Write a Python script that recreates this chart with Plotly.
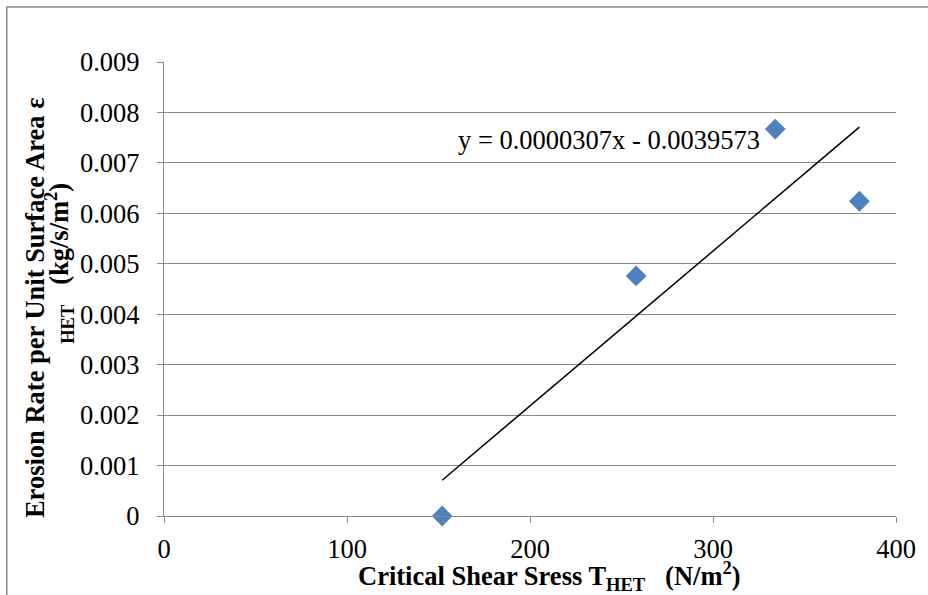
import plotly.graph_objects as go

# Measured critical shear stress vs. erosion rate
shear_stress = [152, 258, 334, 380]
erosion_rate = [0.0, 0.00476, 0.00767, 0.00624]

# Linear trendline coefficients (as printed on the chart)
slope = 0.0000307
intercept = -0.0039573

y_tick_vals = [0, 0.001, 0.002, 0.003, 0.004, 0.005, 0.006, 0.007, 0.008, 0.009]
y_tick_text = ["0", "0.001", "0.002", "0.003", "0.004", "0.005", "0.006", "0.007", "0.008", "0.009"]
x_tick_vals = [0, 100, 200, 300, 400]

FONT = "Liberation Serif, Times New Roman, serif"
FS = 26.5
GRID = "#8a8a8a"

trend_x = [min(shear_stress), max(shear_stress)]
trend_y = [slope * x + intercept for x in trend_x]

fig = go.Figure()
fig.add_trace(go.Scatter(
    x=trend_x, y=trend_y, mode="lines",
    line=dict(color="black", width=1.5), showlegend=False, hoverinfo="skip",
))
fig.add_trace(go.Scatter(
    x=shear_stress, y=erosion_rate, mode="markers",
    marker=dict(symbol="diamond", size=16, color="#4F81BD", line=dict(width=0)),
    showlegend=False, cliponaxis=False,
))

W, H = 928, 595
L, R, T, B = 164, 26, 62, 79
pw, ph = W - L - R, H - T - B


def px(x):
    return (x - L) / pw


def py(y):
    return (H - B - y) / ph


fig.update_layout(
    width=W, height=H,
    margin=dict(l=L, r=R, t=T, b=B),
    paper_bgcolor="white", plot_bgcolor="white",
    font=dict(family=FONT, size=FS, color="black"),
    xaxis=dict(
        range=[0, 400], tickvals=x_tick_vals, showgrid=False, zeroline=False,
        showline=True, linecolor=GRID, linewidth=1.3,
        ticks="outside", ticklen=6, tickcolor=GRID, tickwidth=1.3,
        tickfont=dict(family=FONT, size=FS), ticklabelstandoff=3,
    ),
    yaxis=dict(
        range=[0, 0.009], tickvals=y_tick_vals, ticktext=y_tick_text,
        showgrid=True, gridcolor=GRID, gridwidth=1.3, zeroline=False,
        showline=True, linecolor=GRID, linewidth=1.3,
        ticks="outside", ticklen=6, tickcolor=GRID, tickwidth=1.3,
        tickfont=dict(family=FONT, size=FS), ticklabelstandoff=12,
    ),
    shapes=[dict(
        type="rect", xref="paper", yref="paper",
        x0=px(5.5), y0=py(700), x1=px(1100), y1=py(7),
        line=dict(color="#8a8a8a", width=1.5), fillcolor="rgba(0,0,0,0)", layer="below",
    )],
    annotations=[
        dict(
            x=243.4, y=0.00745, xref="x", yref="y",
            text="y = 0.0000307x - 0.0039573", showarrow=False,
            xanchor="center", yanchor="middle",
            font=dict(family=FONT, size=FS, color="black"),
        ),
        dict(
            x=px(553), y=py(576), xref="paper", yref="paper",
            text="<b>Critical Shear Sress T<sub>HET</sub>   (N/m<sup>2</sup>)</b>",
            showarrow=False, xanchor="center", yanchor="middle",
            font=dict(family=FONT, size=FS, color="black"),
        ),
        dict(
            x=px(34), y=py(308), xref="paper", yref="paper",
            text="<b>Erosion Rate per Unit Surface Area ε</b>",
            showarrow=False, textangle=-90, xanchor="center", yanchor="middle",
            font=dict(family=FONT, size=FS, color="black"),
        ),
        dict(
            x=px(58), y=py(263), xref="paper", yref="paper",
            text="<b><sub>HET</sub>   (kg/s/m<sup>2</sup>)</b>",
            showarrow=False, textangle=-90, xanchor="center", yanchor="middle",
            font=dict(family=FONT, size=FS, color="black"),
        ),
    ],
)

fig.write_html("out.html")
